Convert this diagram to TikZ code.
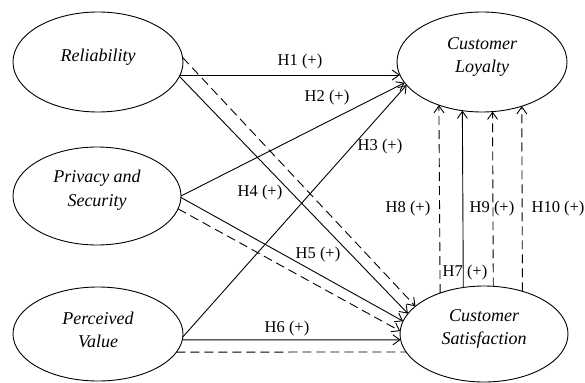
\documentclass[tikz,border=0pt]{standalone}
\usepackage{fontspec}
\setmainfont{Liberation Serif}
\usetikzlibrary{arrows.meta,shapes.geometric}
\begin{document}
\begin{tikzpicture}[x=1pt,y=-1pt,
  var/.style={draw,ellipse,inner sep=0pt,outer sep=0pt,line width=0.9pt},
  vtext/.style={font=\fontsize{18}{23.5}\selectfont\itshape,align=center,inner sep=0pt},
  hyp/.style={font=\fontsize{16.5}{19}\selectfont,inner sep=0pt},
  conn/.style={line width=0.9pt,-{Straight Barb[length=7pt,width=10pt,line width=0.9pt]}},
  dconn/.style={conn,dash pattern=on 9pt off 5pt},
  dline/.style={line width=0.9pt,dash pattern=on 9pt off 5pt}]
\useasboundingbox (0,0) rectangle (585,382);
% constructs
\node[var,minimum width=170pt,minimum height=100pt] (rel)  at (98,62)  {};
\node[var,minimum width=168pt,minimum height=98pt]  (priv) at (97,196) {};
\node[var,minimum width=170pt,minimum height=94pt]  (perc) at (98,334) {};
\node[var,minimum width=170pt,minimum height=100pt] (loy)  at (482,62) {};
\node[var,minimum width=168pt,minimum height=96pt]  (sat)  at (484,334) {};
% construct names
\node[vtext] (relT)  at (98,57)  {Reliability};
\node[vtext] (privT) at (97,190) {Privacy and\\Security};
\node[vtext] (percT) at (98,330) {Perceived\\Value};
\node[vtext] (loyT)  at (482,57) {Customer\\Loyalty};
\node[vtext] (satT)  at (484,329) {Customer\\Satisfaction};
% paths
\draw[conn]  (rel.-9.0)   -- (loy.189.0);
\draw[conn]  (rel.-10.5)  -- (sat.165.3);
\draw[dconn] (rel.3.4)    -- (sat.158.8);
\draw[conn]  (priv.0.7)   -- (loy.195.2);
\draw[conn]  (priv.-1.4)  -- (sat.171.6);
\draw[dconn] (priv.-9.8)  -- (sat.178.6);
\draw[conn]  (perc.-2.5)  -- (loy.197.8);
\draw[conn]  (perc.-4.07) -- (sat.184.1);
\draw[dline] (perc.-13.74) -- (sat.193.84);
\draw[dconn] (sat.137.10) -- (loy.225.99);
\draw[conn]  (sat.114.31) -- (loy.248.70);
\draw[dconn] (sat.79.32)  -- (loy.282.51);
\draw[dconn] (sat.48.40)  -- (loy.312.20);
% hypothesis labels
\node[hyp] (h1)  at (300,62)  {H1 (+)};
\node[hyp] (h2)  at (327,98)  {H2 (+)};
\node[hyp] (h3)  at (380,147) {H3 (+)};
\node[hyp] (h4)  at (260,193) {H4 (+)};
\node[hyp] (h5)  at (318,255) {H5 (+)};
\node[hyp] (h6)  at (287,329) {H6 (+)};
\node[hyp] (h7)  at (465,273) {H7 (+)};
\node[hyp] (h8)  at (408,209) {H8 (+)};
\node[hyp] (h9)  at (492,209) {H9 (+)};
\node[hyp] (h10) at (558,209) {H10 (+)};
\end{tikzpicture}
\end{document}
